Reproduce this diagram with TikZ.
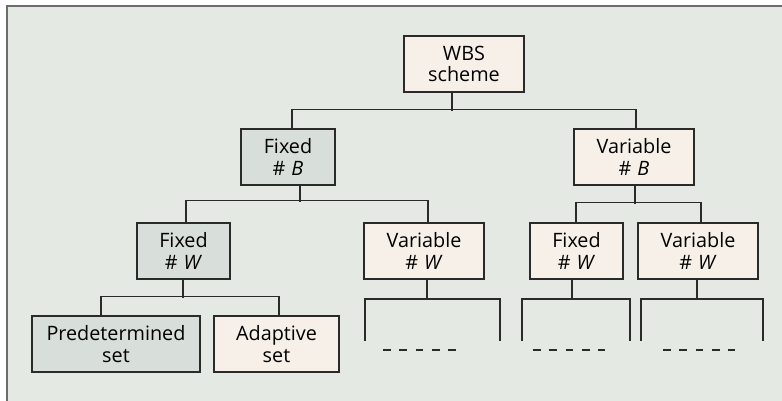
\documentclass[tikz,border=0pt]{standalone}
\usepackage{fontspec}
\setmainfont{Open Sans}
\definecolor{bgcol}{HTML}{E4E9E4}
\definecolor{framecol}{HTML}{6C6C6C}
\definecolor{boxline}{HTML}{2A2A2A}
\definecolor{greyfill}{HTML}{D8DEDA}
\definecolor{creamfill}{HTML}{F6F0E8}
\tikzset{
	box/.style={draw=boxline, line width=1.25pt, minimum height=56pt, align=center, inner sep=2pt},
	greybox/.style={box, fill=greyfill},
	creambox/.style={box, fill=creamfill},
	link/.style={draw=boxline, line width=1.35pt},
	gap/.style={draw=boxline, line width=1.3pt, dash pattern=on 7.7pt off 8.6pt}
}
\newcommand{\cnt}[1]{\#\hspace{0.3em}\textit{#1}}
\begin{document}
\begin{tikzpicture}[x=1pt, y=1pt, font=\fontsize{19.8}{21.7}\selectfont]
	\useasboundingbox (0,0) rectangle (782,400);
	\clip (0,0) rectangle (782,400);
	\fill[white] (0,0) rectangle (782,400);
	\draw[line width=2pt, draw=framecol, fill=bgcol] (7,-10) rectangle (800,394);
	
	% the scheme tree
	\node[creambox, minimum width=120pt] (wbs) at (464,336) {WBS\\scheme};
	\node[greybox, minimum width=94pt] (fixB) at (288,243) {Fixed\\\cnt{B}};
	\node[creambox, minimum width=120pt] (varB) at (634,243) {Variable\\\cnt{B}};
	\node[greybox, minimum width=93pt] (fixWa) at (183.5,149) {Fixed\\\cnt{W}};
	\node[creambox, minimum width=120pt] (varWa) at (424,149) {Variable\\\cnt{W}};
	\node[creambox, minimum width=93pt] (fixWb) at (576.5,149) {Fixed\\\cnt{W}};
	\node[creambox, minimum width=120pt] (varWb) at (698,149) {Variable\\\cnt{W}};
	\node[greybox, minimum width=168pt] (preset) at (116,56) {Predetermined\\set};
	\node[creambox, minimum width=125pt] (adset) at (276.5,56) {Adaptive\\set};
	
	% connectors
	\draw[link] ([xshift=-12pt]wbs.south) -- ++(0,-18);
	\draw[link] ([xshift=4pt]fixB.north) -- ++(0,19) -| ([xshift=2pt]varB.north);
	\draw[link] ([xshift=12pt]fixB.south) -- ++(0,-16);
	\draw[link] ([xshift=2.5pt]fixWa.north) -- ++(0,22) -| ([xshift=4pt]varWa.north);
	\draw[link] ([xshift=1pt]varB.south) -- ++(0,-18);
	\draw[link] ([xshift=-0.5pt]fixWb.north) -- ++(0,20) -| ([xshift=3pt]varWb.north);
	\draw[link] ([xshift=-0.5pt]fixWa.south) -- ++(0,-18);
	\draw[link] ([xshift=-15pt]preset.north) -- ++(0,19) -| ([xshift=2.5pt]adset.north);
	\draw[link] ([xshift=3pt]varWa.south) -- ++(0,-20);
	\draw[link] ([xshift=-4.5pt]fixWb.south) -- ++(0,-20);
	\draw[link] ([xshift=-1pt]varWb.south) -- ++(0,-20);
	
	% open brackets with dashes below
	\foreach \l/\r/\n/\a/\b in {365/500/a/383/456, 522/630/b/533/605, 641/763/c/663/735}
	{
		\coordinate (leg\n l) at (\l,59);
		\coordinate (leg\n r) at (\r,59);
		\draw[link] (leg\n l) -- ++(0,42) -| (leg\n r);
		\draw[gap] (\a,50) -- (\b,50);
	}
\end{tikzpicture}
\end{document}
